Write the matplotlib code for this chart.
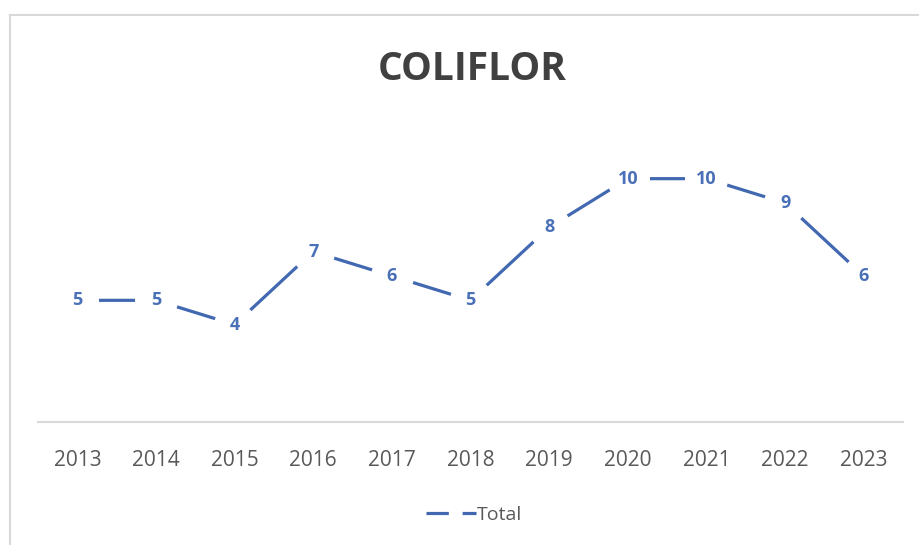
import matplotlib
matplotlib.use("Agg")
import matplotlib.pyplot as plt
from matplotlib.lines import Line2D
import numpy as np

years = ["2013", "2014", "2015", "2016", "2017", "2018",
         "2019", "2020", "2021", "2022", "2023"]
total = [5, 5, 4, 7, 6, 5, 8, 10, 10, 9, 6]

line_color = "#4168b0"
label_color = "#4a70b8"
text_gray = "#595959"

plt.rcParams["font.family"] = ["Open Sans", "DejaVu Sans"]

fig = plt.figure(figsize=(9.19, 5.45), dpi=100)
ax = fig.add_axes([38 / 919, 123 / 545, 865 / 919, 292 / 545])

x = np.arange(len(years))
ax.plot(x, total, color=line_color, linewidth=2.3, solid_capstyle="butt", zorder=2)
# white discs behind the labels cut the line like the excel data labels do
ax.plot(x, total, linestyle="none", marker="o", markersize=31,
        markerfacecolor="white", markeredgecolor="none", zorder=3)
for xi, v in zip(x, total):
    ax.text(xi, v, str(v), ha="center", va="center", fontsize=13,
            fontweight="bold", color=label_color, zorder=4)

ax.set_xlim(-0.5, len(years) - 0.5)
ax.set_ylim(0, 12)
ax.set_xticks(x)
ax.set_xticklabels(years, fontsize=15, color=text_gray)
ax.tick_params(axis="x", length=0, pad=20)
ax.set_yticks([])
for side in ["left", "top", "right"]:
    ax.spines[side].set_visible(False)
ax.spines["bottom"].set_color("#d9d9d9")
ax.spines["bottom"].set_linewidth(1.5)
ax.patch.set_alpha(0)

fig.text(472 / 919, 1 - 69 / 545, "COLIFLOR", ha="center", va="center",
         fontsize=28, fontweight="bold", color="#404040")

handle = Line2D([], [], color=line_color, linewidth=2.3, dashes=(7.0, 4.3))
fig.legend([handle], ["Total"], loc="center", bbox_to_anchor=(474 / 919, 1 - 515 / 545),
           frameon=False, fontsize=14, handlelength=2.6, handletextpad=0.05,
           labelcolor=text_gray)

# chart area border
fig.add_artist(Line2D([9.5 / 919, 9.5 / 919], [0, 1 - 15 / 545], color="#d9d9d9",
                      linewidth=1.5, transform=fig.transFigure))
fig.add_artist(Line2D([9.5 / 919, 1], [1 - 15 / 545, 1 - 15 / 545], color="#d9d9d9",
                      linewidth=1.5, transform=fig.transFigure))

fig.savefig("out.png", dpi=100, facecolor="white")
